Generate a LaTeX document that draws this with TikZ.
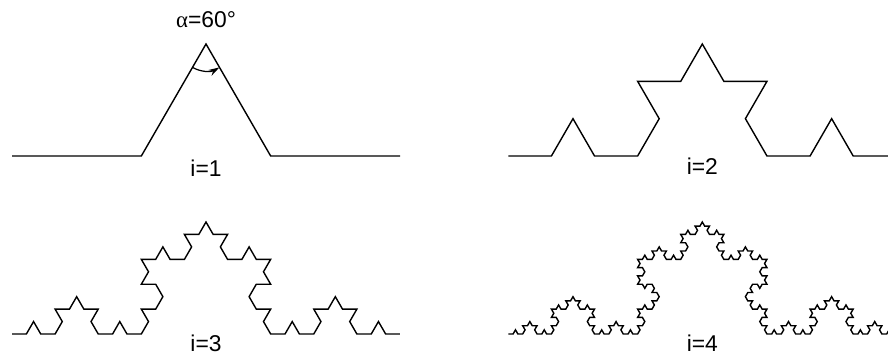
\documentclass[tikz,border=0pt]{standalone}
\usepackage{fontspec}
\setmainfont{Liberation Sans}
\newfontfamily\greekfont{Liberation Serif}
\usetikzlibrary{positioning, lindenmayersystems, arrows.meta}

\pgfdeclarelindenmayersystem{Koch curve}{\rule{F -> F+F--F+F}}

\begin{document}
\begin{tikzpicture}[curve/.style={line width=0.8pt, line join=miter},
    lbl/.style={font=\fontsize{13}{15}\selectfont, inner sep=1pt}]
    \clip (0,0) rectangle (17.76,7.12);

    \foreach \n/\x/\y/\d in {1/0.24/4.0/0.24, 2/10.166/4.0/0.21, 3/0.24/0.44/0.18, 4/10.166/0.44/0.18}{
        \pgfmathsetmacro\kstep{7.76/(3^\n)}
        \draw[curve, shift={(\x,\y)}, lindenmayer system={Koch curve, axiom=F, order=\n, step=\kstep cm, angle=60}] lindenmayer system;
        \node[lbl] (i\n) at (\x+3.88,\y-\d) {i=\n};
    }

    \coordinate (apex) at (4.12,6.24);
    \draw[line width=0.7pt, -{Stealth[length=0.22cm, width=0.13cm]}] ([shift={(240:0.54)}]apex) arc[start angle=240, end angle=300, radius=0.54];
    \node[lbl, above=0.28cm of apex] (alpha) {{\greekfont α}=60°};
\end{tikzpicture}
\end{document}
